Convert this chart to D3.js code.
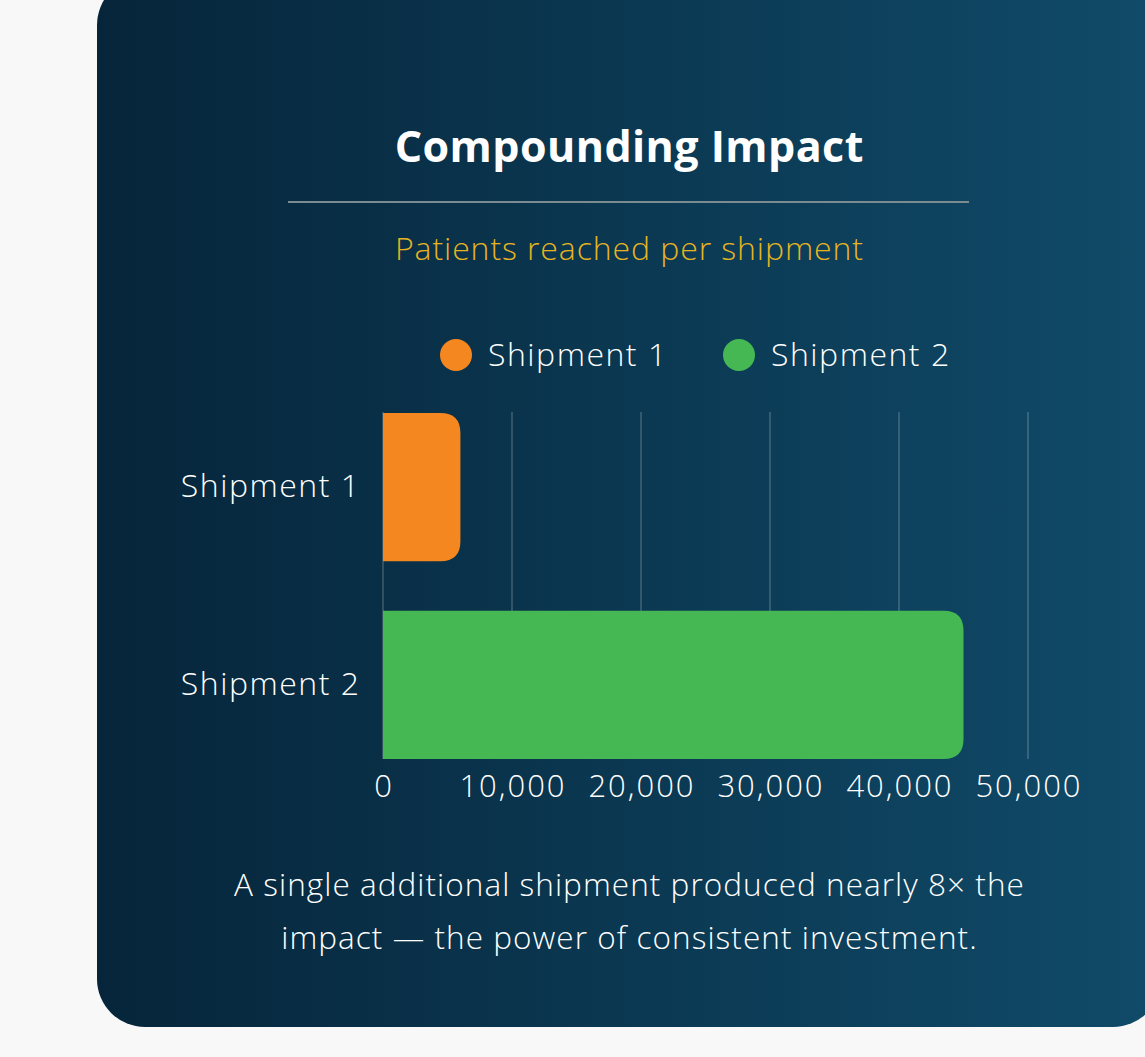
<!DOCTYPE html>
<html>
<head>
<meta charset="utf-8">
<script src="https://cdn.jsdelivr.net/npm/d3@7"></script>
<style>
  html, body { margin: 0; padding: 0; background: #f8f8f8; }
  svg { display: block; }
  text { font-family: "Open Sans", "Lato", sans-serif; }
</style>
</head>
<body>
<svg id="chart" width="1145" height="1057"></svg>
<script>
const categories = ["Shipment 1", "Shipment 2"];
const values = [6000, 45000];
const colors = ["#f48720", "#45b854"];
const xTicks = [0, 10000, 20000, 30000, 40000, 50000];
const title = "Compounding Impact";
const subtitle = "Patients reached per shipment";
const captionLines = ["A single additional shipment produced nearly 8× the", "impact — the power of consistent investment."];

const svg = d3.select("#chart");
const defs = svg.append("defs");
const grad = defs.append("linearGradient").attr("id", "bg").attr("x1", "0").attr("x2", "1").attr("y1", "0").attr("y2", "0");
grad.append("stop").attr("offset", "0%").attr("stop-color", "#06253a");
grad.append("stop").attr("offset", "100%").attr("stop-color", "#104b69");

// card
svg.append("rect").attr("x", 97).attr("y", -23).attr("width", 1064).attr("height", 1050)
  .attr("rx", 48).attr("fill", "url(#bg)");

const cx = 629;
function centered(sel, ls) {
  return sel.attr("text-anchor", "middle").attr("letter-spacing", ls).attr("dx", ls / 2);
}
centered(svg.append("text").attr("x", cx).attr("y", 162), 0.45)
  .attr("fill", "#ffffff").attr("font-weight", 700).attr("font-size", 43).text(title);
svg.append("line").attr("x1", 288).attr("x2", 969).attr("y1", 202).attr("y2", 202)
  .attr("stroke", "#7b8b92").attr("stroke-width", 2);
centered(svg.append("text").attr("x", cx).attr("y", 260), 0.9)
  .attr("fill", "#e6b422").attr("font-weight", 300).attr("font-size", 32).text(subtitle);

// legend
const legendX = [456, 739];
categories.forEach((c, i) => {
  svg.append("circle").attr("cx", legendX[i]).attr("cy", 355).attr("r", 16).attr("fill", colors[i]);
  svg.append("text").attr("x", legendX[i] + 32).attr("y", 366).attr("fill", "#ffffff")
    .attr("letter-spacing", 1.5)
    .attr("font-weight", 300).attr("font-size", 32).text(c);
});

// scales
const x = d3.scaleLinear().domain([0, 50000]).range([383, 1028]);
const y = d3.scaleBand().domain(categories).range([413, 759]).paddingInner(0.25).paddingOuter(0);

// gridlines
svg.append("g").selectAll("line").data(xTicks).join("line")
  .attr("x1", d => x(d)).attr("x2", d => x(d)).attr("y1", 412).attr("y2", 759)
  .attr("stroke", "rgba(255,255,255,0.22)").attr("stroke-width", 1.5);

// bars with right rounded corners
const r = 20;
function barPath(x0, x1, y0, h) {
  const rr = Math.min(r, (x1 - x0), h / 2);
  return `M${x0},${y0} H${x1 - rr} Q${x1},${y0} ${x1},${y0 + rr} V${y0 + h - rr} Q${x1},${y0 + h} ${x1 - rr},${y0 + h} H${x0} Z`;
}
svg.append("g").selectAll("path").data(categories).join("path")
  .attr("d", (c, i) => barPath(x(0), x(values[i]), y(c), y.bandwidth()))
  .attr("fill", (c, i) => colors[i]);

// y labels
svg.append("g").selectAll("text").data(categories).join("text")
  .attr("x", 359).attr("y", c => y(c) + y.bandwidth() / 2 + 10)
  .attr("text-anchor", "end").attr("fill", "#ffffff").attr("font-weight", 300).attr("font-size", 32)
  .attr("letter-spacing", 1.5).attr("dx", 1.5)
  .text(c => c);

// x tick labels
const fmt = d3.format(",");
svg.append("g").selectAll("text").data(xTicks).join("text")
  .attr("x", d => x(d)).attr("y", 797)
  .attr("text-anchor", "middle").attr("letter-spacing", 2).attr("dx", 1)
  .attr("fill", "#ffffff").attr("font-weight", 300).attr("font-size", 31).text(d => fmt(d));

// caption
svg.append("g").selectAll("text").data(captionLines).join("text")
  .attr("x", cx).attr("y", (d, i) => 896 + i * 53)
  .attr("text-anchor", "middle").attr("letter-spacing", 1.05).attr("dx", 0.5)
  .attr("fill", "#ffffff").attr("font-weight", 300).attr("font-size", 31.5).text(d => d);
</script>
</body>
</html>
